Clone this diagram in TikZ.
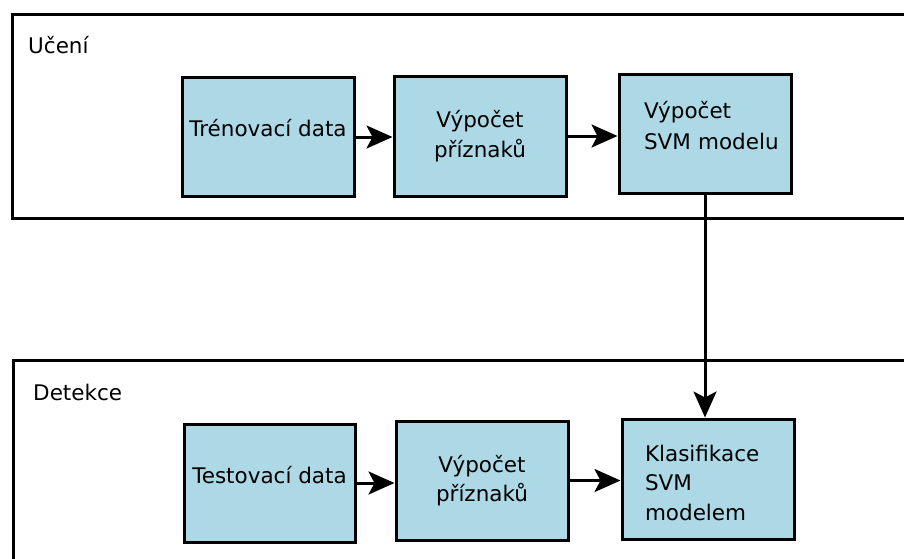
\documentclass[tikz,border=0pt]{standalone}
\usepackage{fontspec}
\setmainfont{DejaVu Sans}
\usetikzlibrary{arrows.meta}
\definecolor{boxblue}{RGB}{173,216,230}
\tikzset{
  frame/.style={draw=black, line width=3pt},
  stepbox/.style={draw=black, line width=3pt, fill=boxblue, minimum width=172pt, minimum height=119pt, inner sep=0pt, align=center},
  leftbox/.style={stepbox, align=left},
  onetext/.style={text height=20pt, text depth=21pt},
  flow/.style={line width=3pt, -{Stealth[length=26pt,width=23pt,inset=6pt]}},
  caption/.style={anchor=base west, inner sep=0pt}
}
\begin{document}
\begin{tikzpicture}[x=1pt, y=-1pt, font=\fontsize{21.5}{29.5}\selectfont]
\useasboundingbox (0,0) rectangle (904,558);
\clip (0,0) rectangle (904,558);
% frames
\draw[frame] (12,14) rectangle (930,218);
\draw[frame] (13,360) rectangle (930,600);
\node[caption] (lucen) at (28,53) {Učení};
\node[caption] (ldet) at (33,400) {Detekce};
% top row
\node[stepbox, onetext] (b1) at (268,137) {Trénovací data};
\node[stepbox, minimum height=120pt] (b2) at (480,136) {Výpočet\\příznaků};
\node[leftbox, text width=122pt] (b3) at (705,133.5) {Výpočet\\[2pt]\mbox{SVM modelu}\rule[-16pt]{0pt}{0pt}};
% bottom row
\node[stepbox, minimum width=171pt, minimum height=118pt, onetext, text depth=20pt] (b4) at (269.5,483) {Testovací data};
\node[stepbox] (b5) at (482,480.5) {Výpočet\\příznaků};
\node[leftbox, text width=126pt, minimum height=120pt] (b6) at (708,479) {\rule{0pt}{24pt}Klasifikace\\SVM\\modelem};
% connectors
\draw[flow] (b1.east) -- (b1.east -| b2.west);
\draw[flow] (b2.east) -- (b2.east -| b3.west);
\draw[flow] (b4.east) -- (b4.east -| b5.west);
\draw[flow] (b5.east) -- (b5.east -| b6.west);
\draw[flow] (b3.south) -- (b3.south |- b6.north);
\end{tikzpicture}
\end{document}
